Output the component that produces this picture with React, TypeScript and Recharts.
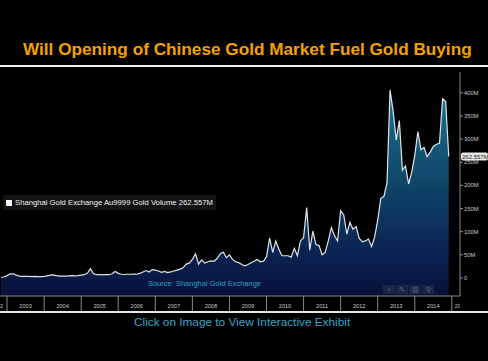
import { AreaChart, Area, XAxis, YAxis, Legend, ReferenceLine } from 'recharts';

// Shanghai Gold Exchange Au9999 monthly volume (millions)
const vol2002 = [1.5, 2]; // Nov, Dec
const vol2003 = [5, 9, 9, 6, 4, 3.5, 3.5, 3.5, 3, 3.5, 3, 3];
const vol2004 = [3.5, 4.5, 6, 6.5, 5, 4, 4, 4, 4.5, 5, 4.5, 5];
const vol2005 = [6, 7, 10, 20, 9, 7, 7, 6.5, 7.5, 7, 9, 14];
const vol2006 = [10, 8, 7.5, 8, 8, 8.5, 8, 10, 13, 16, 13, 18];
const vol2007 = [17, 15, 12, 14, 11.5, 13, 15, 17, 19, 22, 30, 32];
const vol2008 = [40, 52, 30, 39, 32, 35, 37, 36, 42, 52, 56, 44];
const vol2009 = [50, 40, 35, 33, 29, 26, 29, 33, 36, 40, 35, 36];
const vol2010 = [46, 86, 55, 80, 62, 48, 48, 48, 45, 64, 48, 80];
const vol2011 = [87, 152, 60, 101, 72, 70, 50, 55, 80, 109, 91, 80];
const vol2012 = [145, 136, 95, 120, 105, 111, 86, 78, 80, 84, 68, 88];
const vol2013 = [125, 172, 176, 205, 406, 360, 298, 340, 233, 242, 203, 228];
const vol2014 = [265, 316, 277, 282, 262, 272, 284, 289, 291, 387, 381, 262.557];

const years = [2002, 2003, 2004, 2005, 2006, 2007, 2008, 2009, 2010, 2011, 2012, 2013, 2014];
const volumeByYear = [vol2002, vol2003, vol2004, vol2005, vol2006, vol2007, vol2008, vol2009, vol2010, vol2011, vol2012, vol2013, vol2014];
const firstMonth = 10; // data begins November 2002

const yearTicks = [2003, 2004, 2005, 2006, 2007, 2008, 2009, 2010, 2011, 2012, 2013, 2014, 2015];
const volumeTicks = [0, 50, 100, 150, 200, 250, 300, 350, 400];

const seriesName = 'Shanghai Gold Exchange Au9999 Gold Volume';

const data = volumeByYear.flatMap((vals, yi) =>
  vals.map((v, m) => ({
    t: years[yi] + (yi === 0 ? firstMonth + m : m) / 12,
    volume: v,
  }))
);
const lastVolume = data[data.length - 1].volume;

const fmtM = (v: number) => (v === 0 ? '0' : `${v}M`);

const YearTick = (props: any) => {
  const { x, y, payload } = props;
  const year = payload.value;
  const isFirst = year === yearTicks[0];
  const isLast = year === yearTicks[yearTicks.length - 1];
  const textStyle = { fontSize: 5.6, fill: '#c8c8c8', fontFamily: 'Arial, Liberation Sans, sans-serif' };
  return (
    <g clipPath="url(#xBandClip)">
      <line x1={x} y1={y} x2={x} y2={y + 15} stroke="#8a8a8a" strokeWidth={1} />
      {isLast ? (
        <text x={x + 3} y={y + 12} textAnchor="start" {...textStyle}>{year}</text>
      ) : (
        <text x={x + 18.5} y={y + 12} textAnchor="middle" {...textStyle}>{year}</text>
      )}
      {isFirst && (
        <text x={x - 4} y={y + 12} textAnchor="end" {...textStyle}>{year - 1}</text>
      )}
    </g>
  );
};

const LastValueLabel = (props: any) => {
  const vb = props.viewBox || {};
  const x = vb.x + vb.width;
  const y = vb.y;
  return (
    <g>
      <rect x={x + 1} y={y - 4} width={27} height={8} rx={2} fill="#e6e6e6" />
      <text x={x + 2} y={y + 2.2} fontSize={6} fill="#222" fontFamily="Arial, Liberation Sans, sans-serif">
        {fmtM(lastVolume)}
      </text>
    </g>
  );
};

const renderLegend = (props: any) => {
  const item = (props.payload || [])[0];
  return (
    <div
      style={{
        background: '#141414',
        color: '#f2f2f2',
        fontSize: 7.7,
        fontFamily: 'Arial, Liberation Sans, sans-serif',
        padding: '3px 3px 3px 3px',
        display: 'flex',
        alignItems: 'center',
        whiteSpace: 'nowrap',
      }}
    >
      <span style={{ display: 'inline-block', width: 6, height: 6, background: '#fff', marginRight: 3 }} />
      {item ? item.value : seriesName} {fmtM(lastVolume)}
    </div>
  );
};

const toolIcons = ['+', '✎', '▥', '⚲'];

export default function App() {
  return (
    <div
      style={{
        position: 'absolute',
        left: 0,
        top: 0,
        width: 488,
        height: 361,
        background: '#000',
        overflow: 'hidden',
        fontFamily: 'Arial, Liberation Sans, sans-serif',
      }}
    >
      <div
        style={{
          position: 'absolute',
          left: 23,
          top: 41,
          fontSize: 17.2,
          lineHeight: '17px',
          fontWeight: 'bold',
          color: '#f5a100',
          whiteSpace: 'nowrap',
        }}
      >
        Will Opening of Chinese Gold Market Fuel Gold Buying
      </div>
      <div style={{ position: 'absolute', left: 0, top: 65, width: 488, height: 2, background: '#f0f0f0' }} />

      <div style={{ position: 'absolute', left: 0, top: 0 }}>
        <AreaChart width={488} height={313} data={data} margin={{ top: 72, right: 0, bottom: 0, left: 0 }}>
          <defs>
            <linearGradient id="volFill" x1="0" y1="0" x2="0" y2="1">
              <stop offset="0%" stopColor="#1d7391" />
              <stop offset="45%" stopColor="#0f4668" />
              <stop offset="80%" stopColor="#0a2250" />
              <stop offset="100%" stopColor="#08103a" />
            </linearGradient>
            <clipPath id="xBandClip">
              <rect x={0} y={290} width={460} height={30} />
            </clipPath>
          </defs>
          <XAxis
            dataKey="t"
            type="number"
            domain={[2002.81, 2015.22]}
            allowDataOverflow
            ticks={yearTicks}
            interval={0}
            height={17}
            tickSize={0}
            tickMargin={0}
            tickLine={false}
            axisLine={{ stroke: '#8a8a8a' }}
            tick={<YearTick />}
          />
          <YAxis
            orientation="right"
            type="number"
            domain={[-39, 445]}
            allowDataOverflow
            ticks={volumeTicks}
            interval={0}
            width={28}
            tickSize={3}
            tickMargin={1}
            tickFormatter={fmtM}
            axisLine={{ stroke: '#8a8a8a' }}
            tickLine={{ stroke: '#8a8a8a' }}
            tick={{ fontSize: 5.8, fill: '#c8c8c8', fontFamily: 'Arial, Liberation Sans, sans-serif' }}
          />
          <Area
            type="linear"
            dataKey="volume"
            name={seriesName}
            stroke="#dde5ea"
            strokeWidth={1.2}
            fill="url(#volFill)"
            fillOpacity={1}
            baseValue="dataMin"
            dot={false}
            activeDot={false}
            isAnimationActive={false}
          />
          <ReferenceLine y={lastVolume} stroke="none" label={<LastValueLabel />} />
          <Legend
            layout="vertical"
            align="center"
            verticalAlign="middle"
            content={renderLegend}
            wrapperStyle={{ top: 195, left: 3, width: 'auto', height: 'auto' }}
          />
        </AreaChart>
      </div>

      <div
        style={{
          position: 'absolute',
          left: 148,
          top: 279,
          fontSize: 7.5,
          color: '#2aa3c6',
          whiteSpace: 'nowrap',
        }}
      >
        Source: Shanghai Gold Exchange
      </div>

      <div style={{ position: 'absolute', left: 383, top: 285, display: 'flex', gap: 1 }}>
        {toolIcons.map((g) => (
          <div
            key={g}
            style={{
              width: 12,
              height: 9,
              background: '#1b2544',
              color: '#5e6a88',
              fontSize: 7,
              lineHeight: '9px',
              textAlign: 'center',
            }}
          >
            {g}
          </div>
        ))}
      </div>

      <div style={{ position: 'absolute', left: 0, top: 311, width: 488, height: 2, background: '#e6e6e6' }} />

      <div
        style={{
          position: 'absolute',
          left: 134,
          top: 315,
          fontSize: 11.8,
          color: '#3ba3c6',
          whiteSpace: 'nowrap',
        }}
      >
        Click on Image to View Interactive Exhibit
      </div>
    </div>
  );
}
